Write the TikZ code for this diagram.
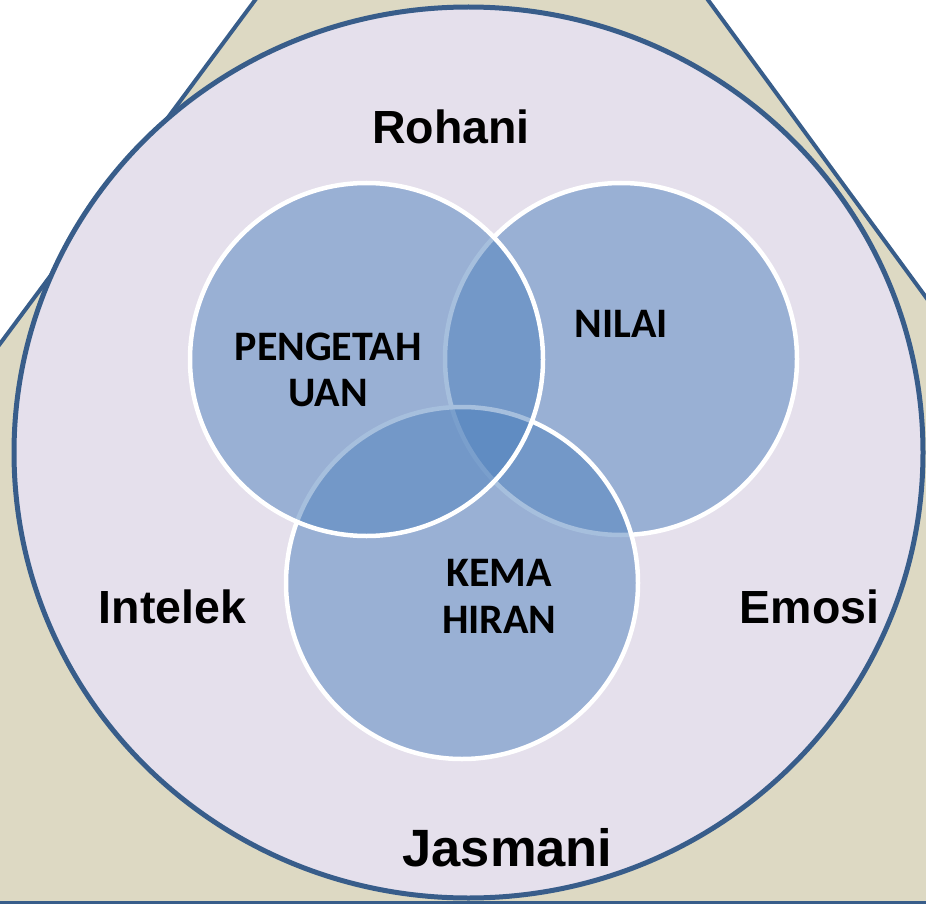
\documentclass[tikz,border=0pt]{standalone}
\usepackage{fontspec}
\setmainfont{Liberation Sans}
\newfontfamily\calib{Carlito}
\definecolor{khaki}{HTML}{DDD9C3}
\definecolor{lav}{HTML}{E5E0EC}
\definecolor{edgeblue}{HTML}{385D8A}
\definecolor{vennblue}{HTML}{4F81BD}
\tikzset{
  venn/.style={fill=vennblue, fill opacity=0.5, draw=white, draw opacity=1, line width=4.5pt},
  vlabel/.style={font=\calib\bfseries\fontsize{42}{46}\selectfont, align=center, text=black, anchor=base, inner sep=0pt},
  olabel/.style={font=\bfseries\fontsize{46.5}{50}\selectfont, text=black, anchor=base, inner sep=0pt}
}
\begin{document}
\begin{tikzpicture}[x=1pt,y=-1pt]
\useasboundingbox (0,0) rectangle (926,904);
\clip (0,0) rectangle (926,904);
% triangle
\coordinate (apex) at (483,-307);
\coordinate (bl) at (-415,903);
\coordinate (br) at (1370,903);
\draw[fill=khaki, draw=edgeblue, line width=4pt, line join=miter] (apex) -- (br) -- (bl) -- cycle;
% big circle
\draw[fill=lav, draw=edgeblue, line width=5pt] (468.5,452.5) ellipse [x radius=454.5, y radius=445.5];
% venn circles
\draw[venn] (621,359) circle [radius=176];
\draw[venn] (462,583) circle [radius=176];
\draw[venn] (366.5,359.5) circle [radius=176.5];
% labels
\node[vlabel] (peng) at (328.3,360) {PENGETAH};
\node[vlabel] (uan) at (328.3,406.7) {UAN};
\node[vlabel] (nilai) at (621,337) {NILAI};
\node[vlabel] (kema) at (499.3,586.7) {KEMA};
\node[vlabel] (hiran) at (499.3,633) {HIRAN};
\node[olabel] (roh) at (450.8,143.3) {Rohani};
\node[olabel] (int) at (172.5,623.3) {Intelek};
\node[olabel] (emo) at (809.7,623.5) {Emosi};
\node[olabel, font=\bfseries\fontsize{52.5}{56}\selectfont] (jas) at (507.5,866.7) {Jasmani};
\end{tikzpicture}
\end{document}
